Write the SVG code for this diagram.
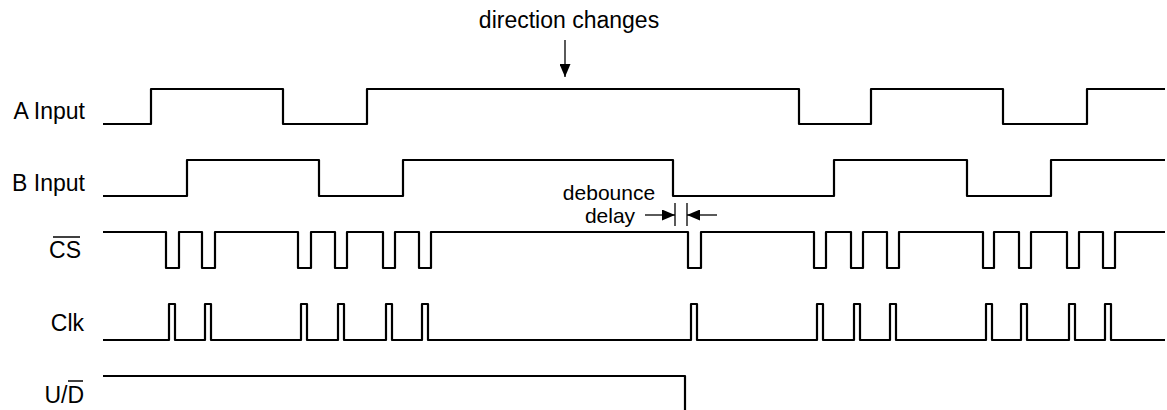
<svg xmlns="http://www.w3.org/2000/svg" width="1167" height="410" viewBox="0 0 1167 410">
<style>
.sig{fill:none;stroke:#000;stroke-width:2.2;stroke-linejoin:round;stroke-linecap:butt}
.lbl{font-family:"Liberation Sans",Arial,sans-serif;font-size:23px;fill:#000;text-anchor:end}
.ann{font-family:"Liberation Sans",Arial,sans-serif;font-size:21px;fill:#000;text-anchor:middle}
.thin{fill:none;stroke:#000;stroke-width:1.3}
.ov{fill:none;stroke:#000;stroke-width:1.5}
</style>
<defs>
<marker id="ah" viewBox="0 0 13 11" refX="13" refY="5.5" markerWidth="13" markerHeight="11" orient="auto" markerUnits="userSpaceOnUse">
<path d="M0,0 L13,5.5 L0,11 Z" fill="#000"/>
</marker>
</defs>
<rect width="1167" height="410" fill="#fff"/>
<g id="a-input">
<text class="lbl" x="85" y="119">A Input</text>
<path class="sig" d="M103,124 H151 V89 H283 V124 H367 V89 H799 V124 H871 V89 H1003 V124 H1087 V89 H1165"/>
</g>
<g id="b-input">
<text class="lbl" x="85" y="191">B Input</text>
<path class="sig" d="M103,196 H187 V160 H319 V196 H403 V160 H673 V196 H834 V160 H967 V196 H1051 V160 H1165"/>
</g>
<g id="cs">
<text class="lbl" x="81" y="258">CS</text>
<line class="ov" x1="53" y1="237" x2="80" y2="237"/>
<path class="sig" d="M103,232 H166 V268 H179 V232 H202 V268 H215 V232 H298 V268 H311 V232 H335 V268 H347 V232 H383 V268 H395 V232 H419 V268 H431 V232 H688 V268 H701 V232 H814 V268 H826 V232 H851 V268 H863 V232 H887 V268 H899 V232 H983 V268 H994 V232 H1019 V268 H1031 V232 H1067 V268 H1079 V232 H1103 V268 H1115 V232 H1165"/>
</g>
<g id="clk">
<text class="lbl" x="84" y="331">Clk</text>
<path class="sig" d="M103,340 H169 V304 H175 V340 H205 V304 H211 V340 H301 V304 H307 V340 H338 V304 H344 V340 H386 V304 H392 V340 H422 V304 H428 V340 H691 V304 H697 V340 H817 V304 H823 V340 H854 V304 H860 V340 H890 V304 H896 V340 H986 V304 H992 V340 H1021 V304 H1027 V340 H1069 V304 H1075 V340 H1105 V304 H1111 V340 H1165"/>
</g>
<g id="ud">
<text class="lbl" x="84" y="403">U/D</text>
<line class="ov" x1="68" y1="381" x2="83" y2="381"/>
<path class="sig" d="M103,376 H685 V410"/>
</g>
<g id="direction-label">
<text class="ann" x="569" y="28" style="font-size:23px">direction changes</text>
</g>
<g id="debounce-label">
<text class="ann" x="609" y="200">debounce</text>
<text class="ann" x="610" y="223">delay</text>
</g>
<g id="connectors">
<line class="thin" x1="565" y1="40" x2="565" y2="77" marker-end="url(#ah)"/>
<line class="thin" x1="645" y1="215" x2="675" y2="215" marker-end="url(#ah)"/>
<line class="thin" x1="717" y1="215" x2="687" y2="215" marker-end="url(#ah)"/>
<line class="thin" x1="675" y1="203" x2="675" y2="226"/>
<line class="thin" x1="687" y1="203" x2="687" y2="226"/>
</g>
</svg>
